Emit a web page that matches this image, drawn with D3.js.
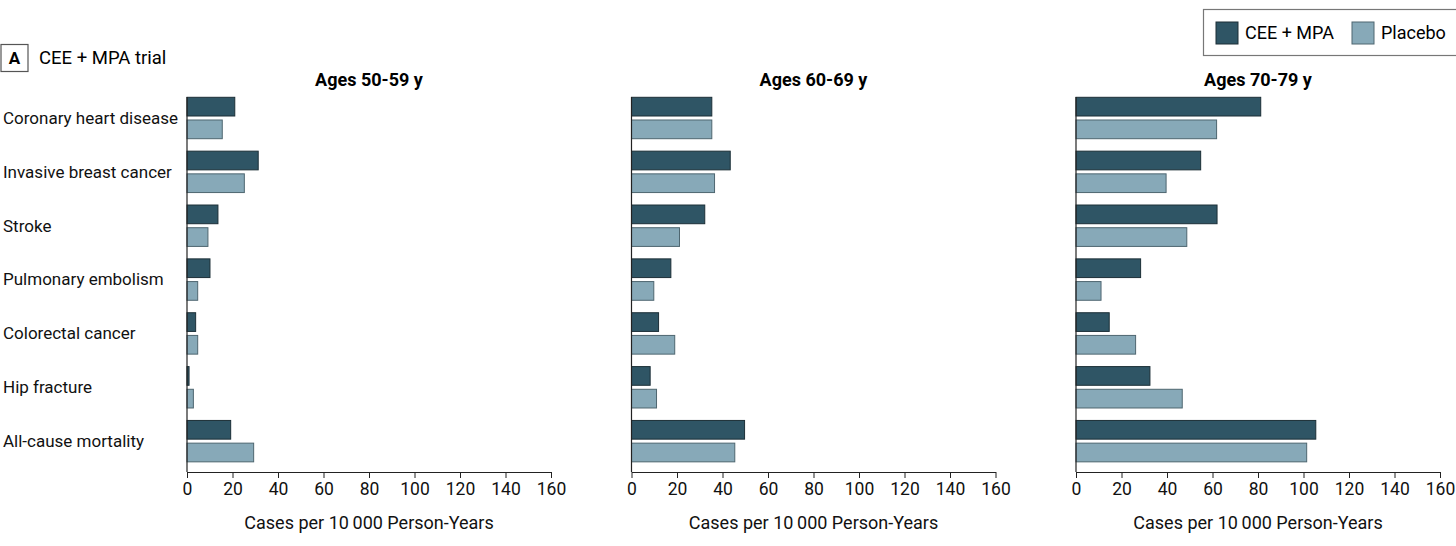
<!DOCTYPE html>
<html>
<head>
<meta charset="utf-8">
<script src="https://cdn.jsdelivr.net/npm/d3@7"></script>
<style>
  body { margin: 0; background: #fff; }
  svg { font-family: Roboto, "Noto Sans", sans-serif; }
</style>
</head>
<body>
<svg id="chart"></svg>
<script>
// outcomes, top to bottom
const categories = [
  'Coronary heart disease',
  'Invasive breast cancer',
  'Stroke',
  'Pulmonary embolism',
  'Colorectal cancer',
  'Hip fracture',
  'All-cause mortality',
];
const panels = ['Ages 50-59 y', 'Ages 60-69 y', 'Ages 70-79 y'];
const seriesNames = ['CEE + MPA', 'Placebo'];

// cases per 10 000 person-years, one array per age group
const cee5059 = [21, 31.3, 13.6, 10.1, 3.8, 0.9, 19.2];
const placebo5059 = [15.5, 25.2, 9.2, 4.7, 4.7, 2.8, 29.3];
const cee6069 = [35.3, 43.4, 32.2, 17.3, 11.9, 8.2, 49.7];
const placebo6069 = [35.3, 36.5, 21.1, 9.8, 19, 11, 45.4];
const cee7079 = [81.2, 54.8, 62, 28.4, 14.6, 32.5, 105.4];
const placebo7079 = [61.8, 39.6, 48.7, 11, 26.2, 46.7, 101.4];

const xTicks = [0, 20, 40, 60, 80, 100, 120, 140, 160];

const panelData = [
  [cee5059, placebo5059],
  [cee6069, placebo6069],
  [cee7079, placebo7079],
];

const colors = ['#2f5565', '#87a9b8'];
const strokes = ['#1c2f37', '#4e6670'];

const width = 1456;
const height = 546;
const svg = d3.select('#chart').attr('width', width).attr('height', height);

const panelLeft = [187, 631.5, 1076];
const panelWidth = 364;
const axisY = 472;

const y = d3.scaleBand().domain(categories).range([91, 468]);
const inner = d3.scaleBand().domain(seriesNames).range([6.3, 47.7]).paddingInner(0.176);

// panel label
svg.append('rect')
  .attr('x', 1).attr('y', 44.5).attr('width', 27).attr('height', 27)
  .attr('fill', 'none').attr('stroke', '#555').attr('stroke-width', 1.2);
svg.append('text')
  .attr('x', 14.5).attr('y', 64)
  .attr('text-anchor', 'middle')
  .attr('font-weight', 700).attr('font-size', 17)
  .text('A');
svg.append('text')
  .attr('x', 39).attr('y', 64)
  .attr('font-size', 18.5)
  .text('CEE + MPA trial');

// category labels
svg.append('g')
  .selectAll('text')
  .data(categories)
  .join('text')
  .attr('x', 3)
  .attr('y', (d) => y(d) + y.bandwidth() / 2)
  .attr('dy', '0.35em')
  .attr('font-size', 17)
  .attr('fill', '#111')
  .text((d) => d);

panels.forEach((title, p) => {
  const x = d3.scaleLinear().domain([0, 160]).range([0, panelWidth]);
  const g = svg.append('g').attr('transform', `translate(${panelLeft[p]},0)`);

  g.append('text')
    .attr('x', panelWidth / 2)
    .attr('y', 86)
    .attr('text-anchor', 'middle')
    .attr('font-weight', 700)
    .attr('font-size', 18)
    .text(title);

  const rows = categories.map((c, i) => ({
    category: c,
    values: seriesNames.map((s, k) => ({ series: s, k, value: panelData[p][k][i] })),
  }));

  g.selectAll('g.row')
    .data(rows)
    .join('g')
    .attr('class', 'row')
    .attr('transform', (d) => `translate(0,${y(d.category)})`)
    .selectAll('rect')
    .data((d) => d.values)
    .join('rect')
    .attr('x', 0)
    .attr('y', (d) => inner(d.series))
    .attr('width', (d) => x(d.value))
    .attr('height', inner.bandwidth())
    .attr('fill', (d) => colors[d.k])
    .attr('stroke', (d) => strokes[d.k])
    .attr('stroke-width', 1);

  // vertical baseline
  g.append('line')
    .attr('x1', 0).attr('x2', 0)
    .attr('y1', 97).attr('y2', axisY)
    .attr('stroke', '#222').attr('stroke-width', 1.2);

  const axis = g.append('g')
    .attr('transform', `translate(0,${axisY})`)
    .call(d3.axisBottom(x).tickValues(xTicks).tickSize(6).tickPadding(5).tickSizeOuter(0));
  axis.select('.domain').attr('stroke', '#222').attr('stroke-width', 1.2);
  axis.selectAll('.tick line').attr('stroke', '#222');
  axis.selectAll('.tick text')
    .attr('font-size', 17.5)
    .attr('font-family', 'Roboto, "Noto Sans", sans-serif')
    .attr('fill', '#111');

  g.append('text')
    .attr('x', panelWidth / 2)
    .attr('y', 529)
    .attr('text-anchor', 'middle')
    .attr('font-size', 18)
    .attr('fill', '#111')
    .text('Cases per 10\u2009000 Person-Years');
});

// legend
const legend = svg.append('g');
legend.append('rect')
  .attr('x', 1203.5).attr('y', 9.5).attr('width', 260).attr('height', 46)
  .attr('fill', '#fff').attr('stroke', '#777').attr('stroke-width', 1.2);
const legendX = [1216, 1352];
seriesNames.forEach((s, k) => {
  legend.append('rect')
    .attr('x', legendX[k]).attr('y', 22).attr('width', 22).attr('height', 22)
    .attr('fill', colors[k]).attr('stroke', strokes[k]);
  legend.append('text')
    .attr('x', legendX[k] + 29).attr('y', 33)
    .attr('dy', '0.35em')
    .attr('font-size', 18)
    .text(s);
});
</script>
</body>
</html>
